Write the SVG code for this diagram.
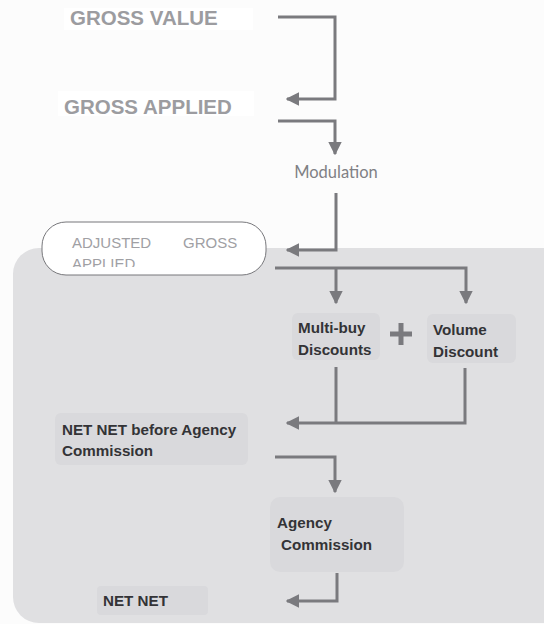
<svg xmlns="http://www.w3.org/2000/svg" width="544" height="624" viewBox="0 0 544 624">
<style>
.ln{fill:none;stroke:#7a7a7e;stroke-width:3}
.hd{font-family:"Liberation Sans",Arial,sans-serif;font-weight:bold;font-size:20.5px;fill:#9c9ca0}
.bx{fill:#d9d9dc}
.bt{font-family:"Liberation Sans",Arial,sans-serif;font-weight:bold;font-size:15.2px;fill:#333336}
.lt{font-family:"Liberation Sans",Arial,sans-serif;font-size:15px;fill:#a0a0a4}
</style>
<defs>
<marker id="ah" viewBox="0 0 10 10" refX="9" refY="5" markerWidth="4.5" markerHeight="4.5" orient="auto" markerUnits="strokeWidth">
<path d="M0,0 L10,5 L0,10 Z" fill="#7a7a7e"/>
</marker>
<clipPath id="pc"><rect x="42" y="222" width="224" height="45"/></clipPath>
</defs>
<rect width="544" height="624" fill="#fcfcfc"/>
<rect x="13" y="248" width="560" height="375" rx="26" fill="#e0e0e2"/>
<g id="connectors">
<path class="ln" d="M278,17 H335 V99 H287" marker-end="url(#ah)"/>
<path class="ln" d="M278,121 H335 V154" marker-end="url(#ah)"/>
<path class="ln" d="M336,193 V250 H287" marker-end="url(#ah)"/>
<path class="ln" d="M275,268 H466 V303" marker-end="url(#ah)"/>
<path class="ln" d="M336,268 V303" marker-end="url(#ah)"/>
<path class="ln" d="M336,367 V423"/>
<path class="ln" d="M465,368 V423 H287" marker-end="url(#ah)"/>
<path class="ln" d="M275,457 H335 V492" marker-end="url(#ah)"/>
<path class="ln" d="M337,573 V601 H287" marker-end="url(#ah)"/>
</g>
<g id="gross-value">
<rect x="64" y="8" width="189" height="22" fill="#ffffff"/>
<text class="hd" x="70" y="25">GROSS VALUE</text>
</g>
<g id="gross-applied">
<rect x="58" y="91" width="196" height="25" fill="#ffffff"/>
<text class="hd" x="64" y="114">GROSS APPLIED</text>
</g>
<g id="modulation">
<text x="336" y="178" text-anchor="middle" font-family="Lato, 'Open Sans', sans-serif" font-size="16.5" fill="#808084">Modulation</text>
</g>
<g id="adjusted-gross-applied">
<rect x="42" y="222" width="224" height="53" rx="24" fill="#ffffff" stroke="#77777b" stroke-width="1"/>
<g clip-path="url(#pc)">
<text class="lt" x="72" y="248">ADJUSTED</text>
<text class="lt" x="183" y="248">GROSS</text>
<text class="lt" x="72" y="269">APPLIED</text>
</g>
</g>
<g id="multi-buy">
<rect class="bx" x="292" y="313" width="88" height="47" rx="6"/>
<text class="bt" x="298" y="333">Multi-buy</text>
<text class="bt" x="298" y="355">Discounts</text>
</g>
<g id="plus">
<path d="M401,323 V345 M390,334 H412" stroke="#7a7a7e" stroke-width="5" fill="none"/>
</g>
<g id="volume">
<rect class="bx" x="427" y="314" width="89" height="49" rx="6"/>
<text class="bt" x="433" y="335">Volume</text>
<text class="bt" x="433" y="357">Discount</text>
</g>
<g id="net-net-before">
<rect class="bx" x="55" y="413" width="193" height="52" rx="6"/>
<text class="bt" x="62" y="435">NET NET before Agency</text>
<text class="bt" x="62" y="456">Commission</text>
</g>
<g id="agency">
<rect class="bx" x="270" y="497" width="134" height="75" rx="10"/>
<text class="bt" x="277" y="528">Agency</text>
<text class="bt" x="281" y="550">Commission</text>
</g>
<g id="net-net">
<rect class="bx" x="97" y="586" width="111" height="29" rx="4"/>
<text class="bt" x="103" y="606">NET NET</text>
</g>
</svg>
